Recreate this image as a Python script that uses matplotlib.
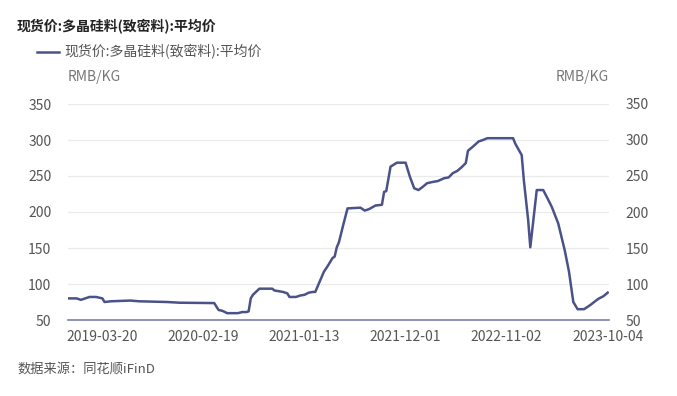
import matplotlib.pyplot as plt

plt.rcParams['font.family'] = ['Noto Sans CJK SC', 'DejaVu Sans']

# 周度数据（按序号排列），读图估计
idx = [0, 4, 6, 7, 10, 13, 16, 17, 20, 29, 33, 46, 52, 68, 70, 72, 74, 79, 81, 83, 84,
       85, 86, 89, 95, 96, 100, 102, 103, 106, 108, 110, 112, 114, 115, 117, 119, 121,
       123, 124, 125, 126, 128, 130, 136, 138, 140, 143, 146, 147, 148, 150, 153, 157,
       159, 161, 163, 165, 167, 170, 172, 175, 177, 179, 181, 183, 185, 186, 188, 191,
       193, 195, 207, 208, 211, 212, 214, 215, 218, 221, 223, 225, 228, 231, 233, 235,
       237, 240, 243, 246, 247, 249, 251]
price = [80, 80, 78, 79, 82, 82, 80, 75, 76, 77, 76, 75, 74, 73.5, 64, 62.5, 59.5, 59.5,
         61, 61, 62, 80, 85, 93.5, 93.5, 91, 89, 87, 82, 82, 84, 85, 88, 89, 89, 103, 117,
         126, 136, 138, 151, 158, 182, 205, 206, 202, 204, 209, 210, 228, 229, 263, 268.5,
         268.5, 249, 233, 230.5, 235, 240, 242, 243, 247, 248, 254, 257, 262, 268, 285,
         290, 298, 300, 302.5, 302.5, 295, 279, 244, 189, 151, 230.5, 230.5, 219, 207,
         184, 147, 117, 75, 65, 65, 71, 78, 80, 83, 88]

tick_pos = [16, 63, 110, 157, 204, 251]
tick_labels = ['2019-03-20', '2020-02-19', '2021-01-13', '2021-12-01', '2022-11-02', '2023-10-04']

name = '现货价:多晶硅料(致密料):平均价'
line_color = '#4a5289'
text_color = '#555555'

fig = plt.figure(figsize=(6.77, 3.96), dpi=100)
ax = fig.add_axes([68 / 677, 1 - 320 / 396, (609 - 68) / 677, (320 - 104) / 396])

ax.plot(idx, price, color=line_color, linewidth=1.8, label=name)
ax.set_xlim(0, 251.6)
ax.set_ylim(50, 350)
ax.set_yticks([50, 100, 150, 200, 250, 300, 350])
ax.set_xticks(tick_pos)
ax.set_xticklabels(tick_labels)
ax.grid(axis='y', color='#ebebeb', linewidth=0.9)
ax.set_axisbelow(True)
for s in ['top', 'left', 'right']:
    ax.spines[s].set_visible(False)
ax.spines['bottom'].set_color('#7a7fa8')
ax.spines['bottom'].set_linewidth(1.2)
ax.tick_params(axis='both', length=0, labelsize=10, colors=text_color)
ax.tick_params(axis='x', pad=7)
ax.tick_params(axis='y', pad=12)

ax2 = ax.twinx()
ax2.set_ylim(50, 350)
ax2.set_yticks([50, 100, 150, 200, 250, 300, 350])
for s in ['top', 'left', 'right', 'bottom']:
    ax2.spines[s].set_visible(False)
ax2.tick_params(axis='y', length=0, labelsize=10, colors=text_color, pad=12)

fig.text(17 / 677, 1 - 27 / 396, name, fontsize=10, fontweight='bold', color='#222222',
         va='center', ha='left')
fig.legend(loc='center left', bbox_to_anchor=(24 / 677, 1 - 52 / 396), frameon=False,
           fontsize=10, handlelength=1.6, handletextpad=0.4, labelcolor=text_color)
fig.text(68 / 677, 1 - 77 / 396, 'RMB/KG', fontsize=10, color='#777777', va='center', ha='left')
fig.text(609 / 677, 1 - 77 / 396, 'RMB/KG', fontsize=10, color='#777777', va='center', ha='right')
fig.text(17 / 677, 1 - 369 / 396, '数据来源：同花顺iFinD', fontsize=9.5, color=text_color,
         va='center', ha='left')

fig.savefig('out.png', dpi=100)
